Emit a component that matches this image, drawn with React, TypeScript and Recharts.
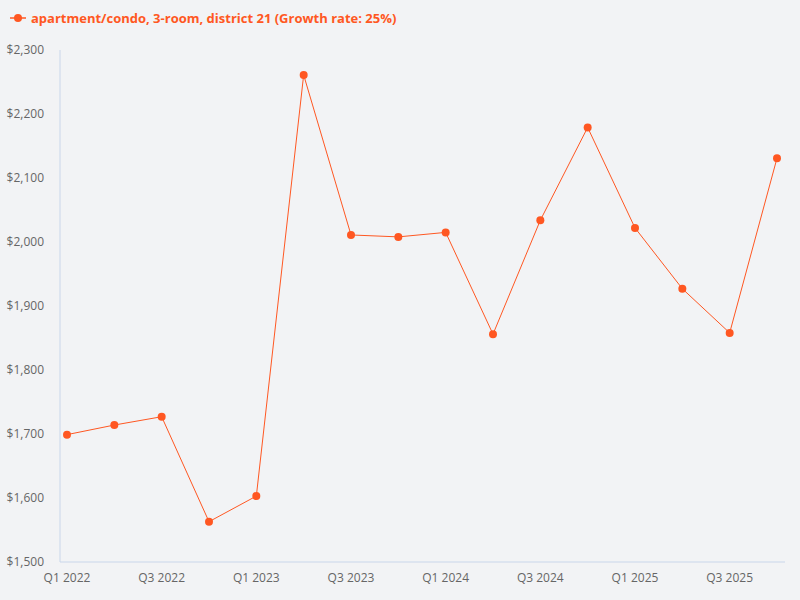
import React, { useEffect } from 'react';
import { LineChart, Line, XAxis, YAxis } from 'recharts';

const quarters = [
  'Q1 2022', 'Q2 2022', 'Q3 2022', 'Q4 2022',
  'Q1 2023', 'Q2 2023', 'Q3 2023', 'Q4 2023',
  'Q1 2024', 'Q2 2024', 'Q3 2024', 'Q4 2024',
  'Q1 2025', 'Q2 2025', 'Q3 2025', 'Q4 2025',
];
const prices = [
  1699, 1714, 1727, 1563,
  1603, 2261, 2011, 2008,
  2015, 1856, 2034, 2179,
  2022, 1927, 1858, 2131,
];
const yTicks = [1500, 1600, 1700, 1800, 1900, 2000, 2100, 2200, 2300];
const seriesName = 'apartment/condo, 3-room, district 21 (Growth rate: 25%)';

const data = quarters.map((q, i) => ({ quarter: q, price: prices[i] }));

const ORANGE = '#ff5722';
const AXIS = '#c9d6ea';
const FONT = '"Open Sans", "Noto Sans", sans-serif';

const fmt = (v: number) => '$' + v.toLocaleString('en-US');

export default function App() {
  useEffect(() => {
    document.body.style.margin = '0';
    document.body.style.background = '#f2f3f5';
  }, []);

  return (
    <div style={{ position: 'relative', width: 800, height: 600, background: '#f2f3f5', fontFamily: FONT }}>
      {/* legend */}
      <div
        style={{
          position: 'absolute', left: 10, top: 8, display: 'flex', alignItems: 'center',
          color: ORANGE, fontWeight: 700, fontSize: 13, height: 20,
        }}
      >
        <svg width={16} height={10} style={{ marginRight: 5 }}>
          <line x1={0} y1={5} x2={16} y2={5} stroke={ORANGE} strokeWidth={1.5} />
          <circle cx={8} cy={5} r={4} fill={ORANGE} />
        </svg>
        <span>{seriesName}</span>
      </div>

      <LineChart width={800} height={600} data={data} margin={{ top: 50, right: 15, bottom: 8, left: 0 }}>
        <XAxis
          dataKey="quarter"
          interval={1}
          padding={{ left: 7, right: 8 }}
          stroke={AXIS}
          tickLine={false}
          tickMargin={5}
          tick={{ fill: '#666', fontSize: 12, fontFamily: FONT }}
        />
        <YAxis
          width={60}
          domain={[1500, 2300]}
          ticks={yTicks}
          tickFormatter={fmt}
          stroke={AXIS}
          tickLine={false}
          tickMargin={10}
          tick={{ fill: '#666', fontSize: 12, fontFamily: FONT }}
        />
        <Line
          type="linear"
          dataKey="price"
          stroke={ORANGE}
          strokeWidth={1}
          dot={{ r: 4, fill: ORANGE, stroke: 'none' }}
          activeDot={false}
          isAnimationActive={false}
        />
      </LineChart>
    </div>
  );
}
